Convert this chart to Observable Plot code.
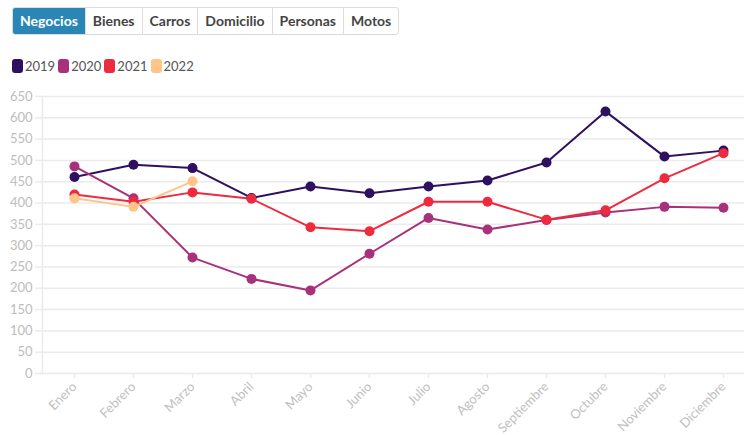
<!DOCTYPE html>
<html>
<head>
<meta charset="utf-8">
<script src="https://cdn.jsdelivr.net/npm/d3@7"></script>
<script src="https://cdn.jsdelivr.net/npm/@observablehq/plot@0.6"></script>
<style>
  html, body { margin: 0; padding: 0; background: #fff; }
  body { width: 744px; height: 435px; position: relative; overflow: hidden; font-family: "Lato", "Open Sans", sans-serif; }
  #tabs { position: absolute; left: 12px; top: 7px; display: flex; border: 1px solid #dcdcdc; border-radius: 3px; overflow: hidden; height: 26px; }
  #tabs div { font-weight: 700; font-size: 14px; color: #444; padding: 0 7px; line-height: 26px; border-left: 1px solid #dcdcdc; }
  #tabs div:first-child { border-left: none; }
  #tabs div.active { background: #2a87b5; color: #fff; }
  #legend { position: absolute; left: 12px; top: 58px; display: flex; font-size: 13px; color: #555; }
  #legend span.item { display: flex; align-items: center; margin-right: 3px; }
  #legend span.sw { display: inline-block; width: 11px; height: 14px; border-radius: 3px; margin-right: 2px; }
  #chart { position: absolute; left: 0; top: 0; }
</style>
</head>
<body>
<div id="chart"></div>
<div id="tabs"></div>
<div id="legend"></div>
<script>
const tabs = ["Negocios", "Bienes", "Carros", "Domicilio", "Personas", "Motos"];
const months = ["Enero", "Febrero", "Marzo", "Abril", "Mayo", "Junio", "Julio", "Agosto", "Septiembre", "Octubre", "Noviembre", "Diciembre"];
const years = ["2019", "2020", "2021", "2022"];
const colors = ["#2d1160", "#a8317b", "#ee2a3f", "#fec488"];
const v2019 = [461, 490, 482, 412, 439, 423, 439, 453, 495, 615, 509, 523];
const v2020 = [486, 411, 272, 222, 195, 281, 365, 338, 360, 378, 391, 389];
const v2021 = [420, 403, 425, 410, 343, 334, 403, 403, 361, 383, 458, 517];
const v2022 = [411, 391, 451];
const yTicks = d3.range(0, 651, 50);

const series = [v2019, v2020, v2021, v2022];
const data = [];
series.forEach((vals, i) => vals.forEach((v, j) => data.push({year: years[i], month: months[j], value: v})));

const tabsEl = document.getElementById("tabs");
tabs.forEach((t, i) => {
  const d = document.createElement("div");
  d.textContent = t;
  if (i === 0) d.className = "active";
  tabsEl.appendChild(d);
});
const legendEl = document.getElementById("legend");
years.forEach((y, i) => {
  const s = document.createElement("span");
  s.className = "item";
  s.innerHTML = `<span class="sw" style="background:${colors[i]}"></span>${y}`;
  legendEl.appendChild(s);
});

const chart = Plot.plot({
  width: 744,
  height: 435,
  marginTop: 96,
  marginBottom: 62,
  marginLeft: 42,
  marginRight: 0,
  style: {fontFamily: "Lato, 'Open Sans', sans-serif", fontSize: "13px", background: "transparent"},
  x: {type: "point", domain: months, range: [71, 725], padding: 0},
  y: {domain: [0, 650]},
  color: {domain: years, range: colors},
  marks: [
    Plot.gridY(yTicks, {stroke: "#ebebeb", strokeOpacity: 1, strokeWidth: 1.5}),
    Plot.axisY(yTicks, {tickSize: 7, tickPadding: 3, stroke: "#ebebeb", strokeWidth: 1.5, color: "#bdbdbd", fill: "#bdbdbd", label: null, fontSize: 13}),
    Plot.frame({anchor: "left", stroke: "#ebebeb", strokeWidth: 1.5}),
    Plot.axisX({tickSize: 5, tickPadding: 6, tickRotate: -45, stroke: "#ebebeb", strokeWidth: 1.5, fill: "#c0c0c0", label: null, fontSize: 13}),
    Plot.lineY(data, {x: "month", y: "value", z: "year", stroke: "year", strokeWidth: 2}),
    Plot.dot(data, {x: "month", y: "value", fill: "year", r: 5})
  ]
});
document.getElementById("chart").appendChild(chart);
</script>
</body>
</html>
